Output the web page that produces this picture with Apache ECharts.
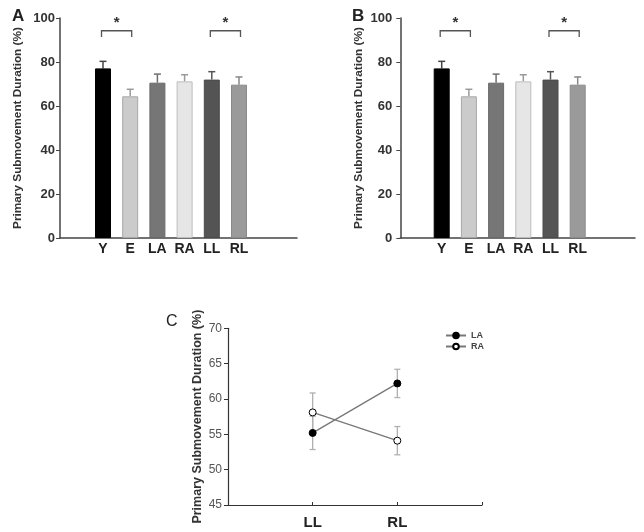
<!DOCTYPE html>
<html>
<head>
<meta charset="utf-8">
<script src="https://cdn.jsdelivr.net/npm/echarts@6/dist/echarts.min.js"></script>
<style>html,body{margin:0;padding:0;background:#fff;}#c{width:644px;height:532px;}</style>
</head>
<body>
<div id="c"></div>
<script>
// ---- data ----
const categories = ['Y', 'E', 'LA', 'RA', 'LL', 'RL'];
const meanA = [77.1, 64.4, 70.6, 71.2, 72.0, 69.7];
const semA  = [3.2, 3.2, 3.9, 3.0, 3.6, 3.5];
const meanB = [77.1, 64.4, 70.6, 71.2, 72.0, 69.7];
const semB  = [3.2, 3.2, 3.9, 3.0, 3.6, 3.5];
const sigPairs = [[0, 1], [4, 5]];
const sigLabel = '*';

const conditionsC = ['LL', 'RL'];
const laMean = [55.2, 62.2];
const laErr  = [2.35, 2.0];
const raMean = [58.1, 54.1];
const raErr  = [2.75, 2.0];

const yName = 'Primary Submovement Duration (%)';

// ---- styles ----
const FONT = '"Liberation Sans", Arial, sans-serif';
const barColors = ['#000000', '#cbcbcb', '#767676', '#e6e6e6', '#545454', '#9a9a9a'];
const barBorders = ['#000000', '#a8a8a8', '#6a6a6a', '#bdbdbd', '#4a4a4a', '#8a8a8a'];
const errColors = ['#444444', '#9a9a9a', '#6e6e6e', '#9a9a9a', '#555555', '#888888'];

const grids = [], xAxes = [], yAxes = [], series = [];

function barPanel(axisLeft, axisRight, firstCenter, step, nameGap, labelMargin, mean, sem) {
  const top = 18, height = 220;
  const gMain = grids.length;
  grids.push({left: axisLeft, top: top, width: axisRight - axisLeft, height: height, outerBoundsMode: 'none'});
  const gBar = grids.length;
  grids.push({left: firstCenter - step / 2, top: top, width: step * categories.length, height: height, outerBoundsMode: 'none'});
  xAxes.push({gridIndex: gMain, type: 'value', min: 0, max: 1,
    axisLine: {show: true, lineStyle: {color: '#444', width: 1.5}},
    axisTick: {show: false}, axisLabel: {show: false}, splitLine: {show: false}});
  const xBar = xAxes.length;
  xAxes.push({gridIndex: gBar, type: 'category', data: categories, boundaryGap: true,
    axisLine: {show: false}, axisTick: {show: false},
    axisLabel: {margin: 4, fontFamily: FONT, fontSize: 14, fontWeight: 'bold', color: '#222'}});
  yAxes.push({gridIndex: gMain, type: 'value', min: 0, max: 100, interval: 20,
    name: yName, nameLocation: 'middle', nameGap: nameGap,
    nameTextStyle: {fontFamily: FONT, fontSize: 11.8, fontWeight: 'bold', color: '#333'},
    axisLine: {show: true, lineStyle: {color: '#444', width: 1.5}},
    axisTick: {show: true, length: 4, inside: false, lineStyle: {color: '#444'}},
    axisLabel: {margin: labelMargin, fontFamily: FONT, fontSize: 13, fontWeight: 'bold', color: '#333'},
    splitLine: {show: false}});
  const yBar = yAxes.length;
  yAxes.push({gridIndex: gBar, type: 'value', min: 0, max: 100, show: false, splitLine: {show: false}});

  series.push({type: 'bar', xAxisIndex: xBar, yAxisIndex: yBar, barWidth: 16, z: 2,
    data: mean.map((v, i) => ({value: v, itemStyle: {color: barColors[i], borderColor: barBorders[i], borderWidth: 1}}))});
  series.push({type: 'custom', xAxisIndex: xBar, yAxisIndex: yBar, z: 1,
    encode: {x: 0, y: 1},
    data: mean.map((v, i) => [i, v, sem[i]]),
    renderItem: function (params, api) {
      const i = api.value(0), v = api.value(1), e = api.value(2);
      const b = api.coord([i, v]), t = api.coord([i, v + e]);
      const c = errColors[i];
      return {type: 'group', children: [
        {type: 'line', shape: {x1: b[0], y1: b[1], x2: t[0], y2: t[1]}, style: {stroke: c, lineWidth: 1.5}},
        {type: 'line', shape: {x1: t[0] - 3.5, y1: t[1], x2: t[0] + 3.5, y2: t[1]}, style: {stroke: c, lineWidth: 1.5}}
      ]};
    }});
  series.push({type: 'custom', xAxisIndex: xBar, yAxisIndex: yBar, z: 3,
    encode: {x: 0, y: 1}, clip: false,
    data: sigPairs.map(p => [p[0], p[1]]),
    renderItem: function (params, api) {
      const a = api.value(0), b = api.value(1);
      const pa = api.coord([a, 94.2]), pb = api.coord([b, 94.2]);
      const da = api.coord([a, 91.4]);
      const st = api.coord([a, 99]);
      const x1 = pa[0] - 1.5, x2 = pb[0] + 1.5;
      return {type: 'group', children: [
        {type: 'polyline', shape: {points: [[x1, da[1]], [x1, pa[1]], [x2, pa[1]], [x2, da[1]]]},
          style: {stroke: '#555', lineWidth: 1.3, fill: null}},
        {type: 'text', style: {text: sigLabel, x: (x1 + x2) / 2, y: st[1] + 3, align: 'center', verticalAlign: 'middle',
          font: 'bold 15px ' + FONT, fill: '#333'}}
      ]};
    }});
}

barPanel(60, 297, 103, 27.2, 36, 5, meanA, semA);
barPanel(400.3, 635, 441.7, 27.2, 36, 8, meanB, semB);

// ---- panel C ----
const cLeft = 228, cRight = 482, cTop = 328.3, cBottom = 505;
const cStep = (cRight - cLeft) / 3;
const gcMain = grids.length;
grids.push({left: cLeft, top: cTop, width: cRight - cLeft, height: cBottom - cTop, outerBoundsMode: 'none'});
const gcSer = grids.length;
grids.push({left: cLeft + cStep / 2, top: cTop, width: cStep * 2, height: cBottom - cTop, outerBoundsMode: 'none'});
xAxes.push({gridIndex: gcMain, type: 'value', min: 0, max: 3, interval: 1,
  axisLine: {show: true, lineStyle: {color: '#333', width: 1.2}},
  axisTick: {show: true, inside: true, length: 3, lineStyle: {color: '#333'}},
  axisLabel: {show: false}, splitLine: {show: false}});
const xcSer = xAxes.length;
xAxes.push({gridIndex: gcSer, type: 'category', data: conditionsC, boundaryGap: true,
  axisLine: {show: false}, axisTick: {show: false},
  axisLabel: {margin: 10, fontFamily: FONT, fontSize: 15, fontWeight: 'bold', color: '#222'}});
yAxes.push({gridIndex: gcMain, type: 'value', min: 45, max: 70, interval: 5,
  name: yName, nameLocation: 'middle', nameGap: 24,
  nameTextStyle: {fontFamily: FONT, fontSize: 12.5, fontWeight: 'bold', color: '#333'},
  axisLine: {show: true, lineStyle: {color: '#333', width: 1.2}},
  axisTick: {show: true, length: 4, lineStyle: {color: '#333'}},
  axisLabel: {margin: 6, fontFamily: FONT, fontSize: 12, color: '#555'},
  splitLine: {show: false}});
const ycSer = yAxes.length;
yAxes.push({gridIndex: gcSer, type: 'value', min: 45, max: 70, show: false, splitLine: {show: false}});

function errSeries(mean, err) {
  return {type: 'custom', xAxisIndex: xcSer, yAxisIndex: ycSer, z: 1, encode: {x: 0, y: 1},
    data: mean.map((v, i) => [i, v, err[i]]),
    renderItem: function (params, api) {
      const i = api.value(0), v = api.value(1), e = api.value(2);
      const t = api.coord([i, v + e]), b = api.coord([i, v - e]);
      const c = '#b0b0b0';
      return {type: 'group', children: [
        {type: 'line', shape: {x1: t[0], y1: t[1], x2: b[0], y2: b[1]}, style: {stroke: c, lineWidth: 1.3}},
        {type: 'line', shape: {x1: t[0] - 3, y1: t[1], x2: t[0] + 3, y2: t[1]}, style: {stroke: c, lineWidth: 1.3}},
        {type: 'line', shape: {x1: b[0] - 3, y1: b[1], x2: b[0] + 3, y2: b[1]}, style: {stroke: c, lineWidth: 1.3}}
      ]};
    }};
}
series.push(errSeries(laMean, laErr));
series.push(errSeries(raMean, raErr));
series.push({type: 'line', name: 'LA', xAxisIndex: xcSer, yAxisIndex: ycSer, z: 3, data: laMean,
  symbol: 'circle', symbolSize: 7, lineStyle: {color: '#777', width: 1.3},
  itemStyle: {color: '#000', borderColor: '#000', borderWidth: 1}});
series.push({type: 'line', name: 'RA', xAxisIndex: xcSer, yAxisIndex: ycSer, z: 3, data: raMean,
  symbol: 'circle', symbolSize: 7, lineStyle: {color: '#777', width: 1.3},
  itemStyle: {color: '#fff', borderColor: '#000', borderWidth: 1}});

const chart = echarts.init(document.getElementById('c'), null, {renderer: 'canvas'});
chart.setOption({
  animation: false,
  backgroundColor: '#fff',
  title: [
    {text: 'A', left: 12, top: 8, padding: 0, textStyle: {fontFamily: FONT, fontSize: 17, fontWeight: 'bold', color: '#222'}},
    {text: 'B', left: 352, top: 8, padding: 0, textStyle: {fontFamily: FONT, fontSize: 17, fontWeight: 'bold', color: '#222'}},
    {text: 'C', left: 166, top: 314, padding: 0, textStyle: {fontFamily: FONT, fontSize: 16, fontWeight: 'normal', color: '#222'}}
  ],
  legend: {data: ['LA', 'RA'], orient: 'vertical', left: 445, top: 331, padding: 0, itemWidth: 20, itemHeight: 7, itemGap: 2,
    textStyle: {fontFamily: FONT, fontSize: 9, fontWeight: 'bold', color: '#444'}},
  grid: grids, xAxis: xAxes, yAxis: yAxes, series: series
});
</script>
</body>
</html>
